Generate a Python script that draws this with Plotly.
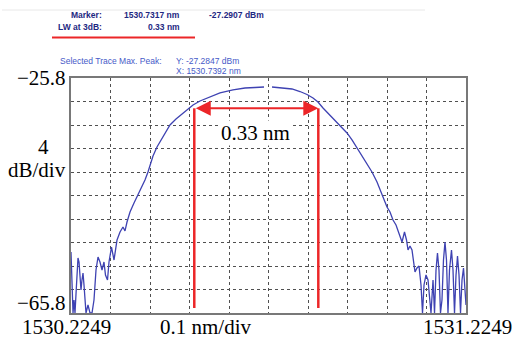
import plotly.graph_objects as go

# ---- data ----
wavelength_nm = [
    1530.2249, 1530.2274, 1530.2300, 1530.2325, 1530.2350, 1530.2388, 1530.2426, 1530.2452,
    1530.2477, 1530.2502, 1530.2527, 1530.2553, 1530.2578, 1530.2603, 1530.2629, 1530.2679,
    1530.2730, 1530.2781, 1530.2831, 1530.2882, 1530.2933, 1530.2983, 1530.3034, 1530.3084,
    1530.3122, 1530.3173, 1530.3211, 1530.3274, 1530.3338, 1530.3414, 1530.3490, 1530.3565,
    1530.3616, 1530.3667, 1530.3743, 1530.3844, 1530.3945, 1530.4046, 1530.4122, 1530.4198,
    1530.4325, 1530.4426, 1530.4553, 1530.4755, 1530.4907, 1530.5084, 1530.5338, 1530.5515,
    1530.5692, 1530.6021, 1530.6350, 1530.6654, 1530.6907, 1530.7135, 1530.7200, 1530.7338,
    1530.7616, 1530.7844, 1530.8046, 1530.8224, 1530.8376, 1530.8502, 1530.8629, 1530.8755,
    1530.8882, 1530.9059, 1530.9236, 1530.9363, 1530.9490, 1530.9616, 1530.9743, 1530.9869,
    1530.9996, 1531.0072, 1531.0148, 1531.0249, 1531.0325, 1531.0401, 1531.0477, 1531.0527,
    1531.0578, 1531.0629, 1531.0692, 1531.0743, 1531.0781, 1531.0831, 1531.0882, 1531.0920,
    1531.0958, 1531.1008, 1531.1059, 1531.1110, 1531.1148, 1531.1186, 1531.1236, 1531.1287,
    1531.1325, 1531.1363, 1531.1414, 1531.1452, 1531.1490, 1531.1527, 1531.1565, 1531.1603,
    1531.1641, 1531.1679, 1531.1717, 1531.1755, 1531.1793, 1531.1831, 1531.1882, 1531.1920,
    1531.1958, 1531.1996, 1531.2034, 1531.2072, 1531.2110, 1531.2148, 1531.2186, 1531.2224,
    1531.2249,
]
power_dbm = [
    -55.42, -60.18, -65.8, -63.59, -65.8, -61.03, -56.44, -57.12,
    -59.33, -61.88, -60.18, -58.99, -61.03, -63.59, -65.8, -64.44,
    -65.8, -65.8, -63.59, -58.48, -56.27, -57.12, -58.48, -57.12,
    -59.33, -60.18, -57.12, -54.57, -56.78, -53.37, -52.01, -51.16,
    -51.84, -50.31, -48.61, -47.08, -45.71, -44.18, -43.16, -41.80,
    -39.08, -37.54, -36.01, -33.80, -32.78, -31.76, -30.40, -29.71,
    -29.20, -28.35, -27.84, -27.50, -27.42, -27.33, None, -27.33,
    -27.45, -27.67, -28.10, -28.61, -29.20, -29.89, -30.91, -31.76,
    -32.61, -33.80, -35.16, -36.35, -37.71, -38.91, -40.27, -41.80,
    -43.50, -44.86, -45.88, -47.76, -48.61, -49.97, -50.82, -51.67,
    -52.52, -53.71, -52.01, -53.37, -55.08, -54.40, -55.08, -57.29,
    -58.82, -58.14, -57.80, -61.03, -65.8, -61.03, -59.33, -60.18,
    -63.59, -65.8, -60.18, -65.8, -58.48, -55.59, -58.48, -65.8,
    -63.59, -56.78, -53.71, -56.78, -65.8, -58.48, -55.08, -58.48,
    -65.8, -59.33, -56.10, -59.33, -65.8, -60.18, -58.14, -61.88,
    -64.44,
]

x_start, x_stop = 1530.2249, 1531.2249
y_top, y_bottom = -25.8, -65.8
lw_left, lw_right = 1530.537, 1530.851
lw_level = -30.96
lw_floor = -64.95

header_labels = ["Marker:", "LW at 3dB:"]
header_values = ["1530.7317 nm", "0.33 nm"]
marker_power = "-27.2907 dBm"
peak_label = "Selected Trace Max. Peak:"
peak_values = ["Y: -27.2847 dBm", "X: 1530.7392 nm"]

W, H = 516, 342
L, R, T, B = 71, 466, 78, 313


def P(px, py):
    return (px - L) / (R - L), (B - py) / (B - T)


fig = go.Figure()
fig.add_trace(go.Scatter(
    x=wavelength_nm, y=power_dbm, mode="lines",
    line=dict(color="rgb(62,66,178)", width=1.3),
    connectgaps=False, hoverinfo="skip", showlegend=False,
))

red = "rgb(236,38,40)"
for xv in (lw_left, lw_right):
    fig.add_shape(type="line", xref="x", yref="y", x0=xv, x1=xv,
                  y0=lw_level, y1=lw_floor, line=dict(color=red, width=2.5))

ann = [dict(x=lw_right, y=lw_level, ax=lw_left, ay=lw_level,
            xref="x", yref="y", axref="x", ayref="y", text="",
            showarrow=True, arrowside="end+start", arrowhead=2,
            arrowsize=1.5, arrowwidth=2, arrowcolor=red,
            standoff=0, startstandoff=0)]

serif = dict(family="Liberation Serif", size=21, color="black")


def txt(px, py, s, xanchor="center", font=serif, **kw):
    x, y = P(px, py)
    ann.append(dict(x=x, y=y, xref="paper", yref="paper", text=s, showarrow=False,
                    xanchor=xanchor, yanchor="middle", font=font, **kw))


txt(255, 133, "0.33 nm", bgcolor="white", borderpad=0)
txt(68, 78, "\u221225.8", "right")
txt(43, 147, "4")
txt(68, 170, "dB/div", "right")
txt(68, 303, "\u221265.8", "right")
txt(20, 327, "1530.2249", "left")
txt(206, 327, "0.1 nm/div")
txt(514, 327, "1531.2249", "right")

hfont = dict(family="Liberation Sans", size=8.5, color="rgb(30,40,130)")
txt(104, 15, "<b>" + header_labels[0] + "</b>", "right", hfont)
txt(104, 27, "<b>" + header_labels[1] + "</b>", "right", hfont)
txt(182, 15, "<b>" + header_values[0] + "</b>", "right", hfont)
txt(182, 27, "<b>" + header_values[1] + "</b>", "right", hfont)
txt(207, 15, "<b>" + marker_power + "</b>", "left", hfont)

pfont = dict(family="Liberation Sans", size=8.5, color="rgb(70,90,200)")
txt(58, 61, peak_label, "left", pfont)
txt(174, 61, peak_values[0], "left", pfont)
txt(174, 71, peak_values[1], "left", pfont)

# header rules
x0, y0 = P(52, 37.5)
x1, _ = P(195, 37.5)
fig.add_shape(type="line", xref="paper", yref="paper", x0=x0, x1=x1, y0=y0, y1=y0,
              line=dict(color=red, width=2))
x0, y0 = P(2, 10)
x1, _ = P(425, 10)
fig.add_shape(type="line", xref="paper", yref="paper", x0=x0, x1=x1, y0=y0, y1=y0,
              line=dict(color="rgb(232,232,232)", width=1))

axis_common = dict(showticklabels=False, ticks="", showgrid=True, gridcolor="rgb(80,80,80)",
                   griddash="dot", gridwidth=1, zeroline=False, showline=True,
                   mirror=True, linecolor="rgb(120,120,120)", linewidth=1.5)
fig.update_xaxes(range=[x_start, x_stop], tick0=x_start, dtick=0.1, **axis_common)
fig.update_yaxes(range=[y_bottom, y_top], tick0=y_bottom, dtick=4, **axis_common)

fig.update_layout(
    width=W, height=H, margin=dict(l=L, r=W - R, t=T, b=H - B),
    paper_bgcolor="white", plot_bgcolor="white", annotations=ann, showlegend=False,
)
fig.write_html("out.html", config={"displayModeBar": False},
               post_script="document.body.style.margin='0';document.body.style.overflow='hidden';")
